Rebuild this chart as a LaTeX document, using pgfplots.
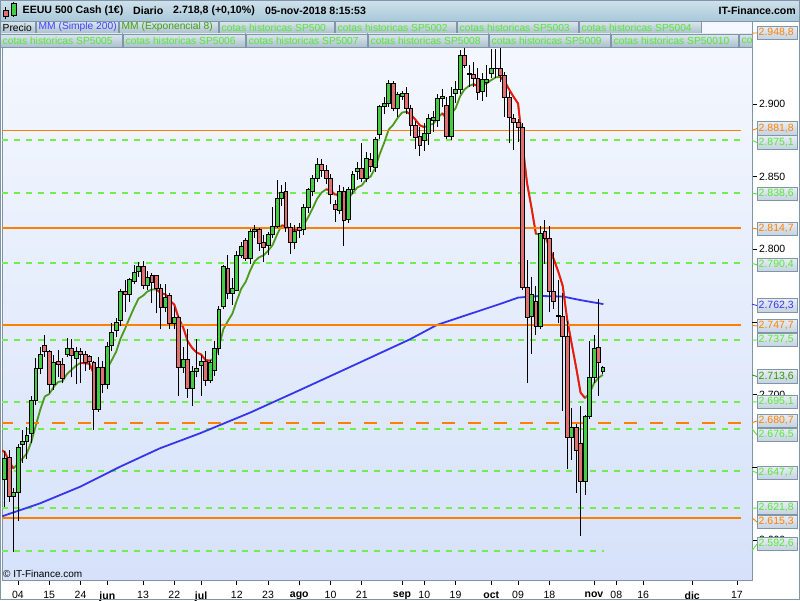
\documentclass[border=0pt]{standalone}
\usepackage{pgfplots}
\pgfplotsset{compat=1.18}
\usepackage{pgfplotstable}
\usepackage{fontspec}
\setmainfont{Liberation Sans}
\definecolor{cgreen}{HTML}{44CC44}
\definecolor{cred}{HTML}{E07070}
\definecolor{emag}{HTML}{4C9A1C}
\definecolor{emagd}{HTML}{339900}
\definecolor{emar}{HTML}{FF1010}
\definecolor{smab}{HTML}{3535EE}
\definecolor{lvl}{RGB}{255,128,0}
\definecolor{lgr}{HTML}{70EE50}
\definecolor{txtg}{HTML}{55E833}
\definecolor{txtb}{HTML}{4040FF}
\definecolor{txtm}{HTML}{40A010}
\definecolor{frame}{HTML}{8096A8}
\definecolor{bgtop}{HTML}{F5F8FE}
\definecolor{bgbot}{HTML}{D6E2FA}
\definecolor{barT}{HTML}{CFE2EC}
\definecolor{barB}{HTML}{A8C8D8}
\definecolor{legT}{HTML}{DCE7EE}
\definecolor{legB}{HTML}{AABFCB}
\definecolor{boxT}{HTML}{E8EEF5}
\definecolor{boxB}{HTML}{C3D1E1}

\pgfdeclarelayer{bg}
\pgfsetlayers{bg,main}

% candle marks (heights in canvas pt, from visualization depends on)
\pgfdeclareplotmark{cbody}{%
  \pgfpathrectangle{\pgfqpoint{-1.95pt}{-\bhh pt}}{\pgfqpoint{3.9pt}{\bh pt}}%
  \pgfusepathqfillstroke
}
\pgfdeclareplotmark{cwick}{%
  \pgfpathmoveto{\pgfqpoint{0pt}{-\whh pt}}%
  \pgfpathlineto{\pgfqpoint{0pt}{\whh pt}}%
  \pgfusepathqstroke
}

\pgfplotstableread{
i o h l c
0 2642 2661 2623 2656
1 2657 2662 2626 2630
2 2630 2636 2592 2633
3 2633 2666 2613 2664
4 2666 2676 2653 2668
5 2668 2678 2656 2672
6 2673 2699 2667 2696
7 2696 2725 2693 2718
8 2718 2733 2714 2728
9 2734 2741 2726 2730
10 2730 2731 2701 2707
11 2707 2727 2703 2722
12 2723 2731 2712 2721
13 2721 2725 2708 2711
14 2728 2739 2726 2732
15 2732 2738 2712 2727
16 2725 2733 2707 2730
17 2730 2732 2708 2728
18 2728 2730 2716 2722
19 2726 2727 2717 2723
20 2722 2723 2676 2690
21 2690 2726 2688 2719
22 2719 2723 2701 2707
23 2707 2736 2704 2733
24 2734 2749 2730 2743
25 2744 2753 2740 2750
26 2751 2773 2747 2771
27 2771 2779 2757 2769
28 2769 2780 2764 2779
29 2778 2789 2776 2784
30 2785 2791 2781 2788
31 2788 2792 2773 2775
32 2775 2785 2772 2781
33 2782 2784 2763 2777
34 2782 2782 2756 2773
35 2773 2776 2745 2760
36 2760 2776 2757 2767
37 2768 2770 2745 2749
38 2749 2760 2745 2753
39 2753 2754 2699 2719
40 2719 2733 2715 2724
41 2724 2745 2698 2704
42 2704 2720 2692 2716
43 2716 2738 2712 2718
44 2720 2727 2699 2723
45 2723 2730 2706 2710
46 2710 2724 2708 2722
47 2717 2737 2713 2732
48 2732 2761 2727 2759
49 2761 2789 2759 2788
50 2787 2796 2766 2770
51 2770 2780 2762 2773
52 2772 2799 2771 2796
53 2796 2805 2794 2802
54 2806 2808 2792 2794
55 2794 2814 2790 2812.6
56 2812.6 2817 2808 2814
57 2814 2815 2799 2804
58 2805 2810 2791 2801
59 2802.5 2812 2796 2810
60 2810 2829 2808 2816
61 2816 2848 2815 2835
62 2835 2844 2830 2839
63 2840 2846 2812 2815
64 2815 2818 2797 2805
65 2805 2817 2800 2812.6
66 2815 2818 2808 2813
67 2814 2831 2810 2829
68 2829 2842 2825 2841
69 2840 2851 2837 2849
70 2849 2863 2846 2858.5
71 2858.5 2862 2850 2854
72 2854 2858 2845 2849
73 2849 2852 2831 2838
74 2831 2834 2819 2827.5
75 2827 2844 2824 2839.6
76 2840 2843 2802 2820
77 2820.6 2843 2818 2841
78 2841 2854 2838 2851.6
79 2853.4 2860 2848 2855.7
80 2855.7 2873 2846 2849
81 2849 2867 2846 2862.6
82 2862 2866 2853 2857.3
83 2856.2 2877 2853 2875.7
84 2879 2899 2876 2898.6
85 2898.6 2905 2893 2900.4
86 2900.4 2916.5 2898 2914.2
87 2914.2 2916 2895 2897
88 2897 2908 2891 2906.6
89 2905.3 2909 2903 2907.3
90 2907.3 2912 2893 2897
91 2897 2899 2878 2885.5
92 2885.5 2888 2869 2877
93 2877.5 2884 2864 2871.5
94 2875 2887 2868 2880
95 2880 2893 2872 2890
96 2889 2895 2881 2890.5
97 2889 2907 2884 2904
98 2904 2910 2898 2905
99 2899 2905 2876 2877.5
100 2877.5 2912 2875 2905
101 2907.5 2916 2901 2910
102 2910 2937 2907 2933.7
103 2933.7 2941 2925 2926.8
104 2921 2927 2912 2920.6
105 2920.6 2929 2912 2917.6
106 2917.6 2925 2903 2908
107 2908.4 2921 2902 2917
108 2915 2927 2905 2917
109 2921 2938 2918 2924.5
110 2924.5 2938 2918 2924.3
111 2924.5 2940 2915 2920
112 2920 2922 2891 2904.5
113 2904.5 2908 2873 2890.5
114 2890 2893 2868 2887.3
115 2887.3 2890 2874 2884
116 2884 2887 2772 2774
117 2774 2793 2708 2753
118 2753.5 2781 2728 2769
119 2764.5 2775 2741 2747
120 2747 2816 2745 2811
121 2812 2820 2790 2807.6
122 2807.6 2816 2757 2771
123 2771 2798 2759 2764.5
124 2754.5 2779 2749 2754
125 2753.7 2770 2689 2740.4
126 2740.4 2751 2649 2670.6
127 2670.6 2691 2655 2677.5
128 2677.5 2680 2632 2661.5
129 2666.5 2692 2603 2640
130 2640 2686 2631 2685.3
131 2685.3 2737 2683 2712
132 2712 2741 2708 2732
133 2732.6 2766 2699 2722
134 2716 2720 2714 2718.8
}\candles

\pgfplotstableread{
i e
-1 2662.0
0 2660.7
1 2653.9
2 2649.3
3 2652.6
4 2656.0
5 2659.6
6 2667.7
7 2678.9
8 2689.8
9 2698.7
10 2700.5
11 2705.3
12 2708.8
13 2709.3
14 2714.3
15 2717.1
16 2720.0
17 2721.8
18 2721.6
19 2721.3
20 2714.2
21 2714.0
22 2713.5
23 2718.2
24 2723.7
25 2729.6
26 2738.8
27 2745.5
28 2752.9
29 2759.8
30 2766.1
31 2768.1
32 2771.0
33 2772.3
34 2772.5
35 2769.7
36 2769.1
37 2764.6
38 2762.0
39 2752.5
40 2746.2
41 2736.8
42 2732.2
43 2729.0
44 2727.7
45 2723.8
46 2723.4
47 2725.3
48 2732.8
49 2745.1
50 2750.6
51 2755.6
52 2764.6
53 2772.9
54 2777.6
55 2785.4
56 2791.8
57 2794.5
58 2795.9
59 2799.0
60 2802.8
61 2810.0
62 2816.4
63 2816.1
64 2813.6
65 2813.4
66 2813.3
67 2816.8
68 2822.2
69 2828.2
70 2834.9
71 2839.1
72 2841.3
73 2840.6
74 2837.7
75 2837.5
76 2833.6
77 2835.2
78 2838.9
79 2842.6
80 2844.0
81 2848.1
82 2850.2
83 2855.9
84 2865.4
85 2873.2
86 2882.3
87 2885.6
88 2890.3
89 2894.1
90 2894.7
91 2892.7
92 2889.2
93 2885.3
94 2884.1
95 2885.4
96 2886.4
97 2890.3
98 2893.6
99 2890.0
100 2893.3
101 2897.0
102 2905.2
103 2910.0
104 2912.4
105 2913.6
106 2912.3
107 2913.4
108 2914.2
109 2916.5
110 2918.3
111 2918.7
112 2915.5
113 2910.0
114 2904.9
115 2900.3
116 2872.2
117 2845.7
118 2828.7
119 2810.5
120 2810.6
121 2809.9
122 2801.3
123 2793.1
124 2784.6
125 2774.8
126 2751.6
127 2735.1
128 2718.8
129 2701.3
130 2697.7
131 2700.9
132 2707.8
133 2711.6
134 2713.6
}\ema

\pgfplotstableread{
i e
-1 2662.0
0 2660.7
1 2653.9
2 2649.3
nan nan
17 2721.8
18 2721.6
19 2721.3
20 2714.2
21 2714.0
22 2713.5
nan nan
34 2772.5
35 2769.7
36 2769.1
37 2764.6
38 2762.0
39 2752.5
40 2746.2
41 2736.8
42 2732.2
43 2729.0
44 2727.7
45 2723.8
46 2723.4
nan nan
62 2816.4
63 2816.1
64 2813.6
65 2813.4
66 2813.3
nan nan
72 2841.3
73 2840.6
74 2837.7
75 2837.5
76 2833.6
nan nan
90 2894.7
91 2892.7
92 2889.2
93 2885.3
94 2884.1
nan nan
98 2893.6
99 2890.0
nan nan
105 2913.6
106 2912.3
nan nan
111 2918.7
112 2915.5
113 2910.0
114 2904.9
115 2900.3
116 2872.2
117 2845.7
118 2828.7
119 2810.5
nan nan
120 2810.6
121 2809.9
122 2801.3
123 2793.1
124 2784.6
125 2774.8
126 2751.6
127 2735.1
128 2718.8
129 2701.3
130 2697.7
}\emared

\pgfplotstableread{
i s
-1.03 2615.8
7.93 2625.2
16.89 2636.6
25.85 2650.4
34.80 2663.1
43.76 2673.4
54.96 2687.6
66.16 2703.2
77.35 2719.0
90.80 2738.1
96.78 2747.9
104.2 2755.5
110.95 2762.4
115.05 2766.8
119.9 2767.9
125.06 2767.5
128.9 2765.1
134.1 2762.3
}\sma

\newcommand{\fl}{\fontsize{10.25}{12}\selectfont}
\newcommand{\ft}{\fontsize{10.5}{12}\selectfont}

% legend box: x1, x2, ybottom, ytop, color, text
\newcommand{\legbox}[6]{%
  \draw[draw=frame, line width=0.8pt, top color=legT, bottom color=legB] (#1,#3) rectangle (#2,#4);
  \node[anchor=west, inner sep=0pt, text=#5, font=\fl] at ({#1+2.5},{(#3+#4)/2}) {#6};
}
% price label: price y px, box centre px, colour, text
\newcommand{\plab}[4]{%
  \draw[#3, line width=0.9pt] (752,{600-#1}) -- (757,{600-#2});
  \draw[draw=frame, line width=0.8pt, top color=boxT, bottom color=boxB] (757,{600-#2-6.75}) rectangle (797,{600-#2+6.75});
  \node[anchor=west, inner sep=0pt, text=#3, font=\ft] at (758.5,{600-#2}) {#4};
}

\begin{document}
\begin{tikzpicture}[x=1pt,y=1pt]
\begin{axis}[
  name=ax, at={(0,0)}, anchor=south west,
  scale only axis, width=750pt, height=559pt,
  xmin=-0.582, xmax=167.39, ymin=2572.46, ymax=2957.11,
  axis background/.style={shade, top color=bgtop, bottom color=bgbot},
  axis line style={draw=frame, line width=1pt},
  xtick={3,10,17,23,31,38,44,52,59,66,73,80,89,94,101,109,115,122,132,137,143,154,164},
  xticklabels={04,15,24,\textbf{jun},13,22,\textbf{jul},12,23,\textbf{ago},10,21,\textbf{sep},10,19,\textbf{oct},09,18,\textbf{nov},08,16,\textbf{dic},17},
  ytick={2600,2700,2800,2850,2900},
  yticklabels={2.600,2.700,2.800,2.850,2.900},
  extra y ticks={2650,2750},
  extra y tick labels={},
  xtick pos=left, ytick pos=right, yticklabel pos=right,
  tick align=outside, major tick length=4.5pt,
  tick style={black, line width=0.7pt},
  ticklabel style={font=\ft},
  xticklabel style={anchor=north, yshift=-3.5pt},
  yticklabel style={anchor=west, xshift=-1pt},
  clip=true,
]
% wicks
\addplot[scatter, only marks, mark=cwick, forget plot,
  scatter/@pre marker code/.code={\scope[draw=black, line width=0.9pt]},
  scatter/@post marker code/.code={\endscope},
  visualization depends on={(\thisrow{h}-\thisrow{l})*0.726635 \as \whh}]
  table[x=i, y expr={(\thisrow{h}+\thisrow{l})/2}] {\candles};
% up bodies
\addplot[scatter, only marks, mark=cbody, forget plot,
  restrict expr to domain={\thisrow{c}-\thisrow{o}}{0:1000},
  scatter/@pre marker code/.code={\scope[draw=black, fill=cgreen, line width=0.8pt]},
  scatter/@post marker code/.code={\endscope},
  visualization depends on={abs(\thisrow{c}-\thisrow{o})*0.726635 \as \bhh},
  visualization depends on={abs(\thisrow{c}-\thisrow{o})*1.45327 \as \bh}]
  table[x=i, y expr={(\thisrow{o}+\thisrow{c})/2}] {\candles};
% down bodies
\addplot[scatter, only marks, mark=cbody, forget plot,
  restrict expr to domain={\thisrow{c}-\thisrow{o}}{-1000:-0.01},
  scatter/@pre marker code/.code={\scope[draw=black, fill=cred, line width=0.8pt]},
  scatter/@post marker code/.code={\endscope},
  visualization depends on={abs(\thisrow{c}-\thisrow{o})*0.726635 \as \bhh},
  visualization depends on={abs(\thisrow{c}-\thisrow{o})*1.45327 \as \bh}]
  table[x=i, y expr={(\thisrow{o}+\thisrow{c})/2}] {\candles};

% green dashed levels
\addplot[color=lgr, solid, line width=2pt, dash pattern=on 6.5pt off 5.5pt] coordinates {(-0.6,2875.1) (165,2875.1)};
\addplot[color=lgr, solid, line width=2pt, dash pattern=on 6.5pt off 5.5pt] coordinates {(-0.6,2838.6) (165,2838.6)};
\addplot[color=lgr, solid, line width=2pt, dash pattern=on 6.5pt off 5.5pt] coordinates {(-0.6,2790.4) (165,2790.4)};
\addplot[color=lgr, solid, line width=2pt, dash pattern=on 6.5pt off 5.5pt] coordinates {(-0.6,2737.5) (165,2737.5)};
\addplot[color=lgr, solid, line width=2pt, dash pattern=on 6.5pt off 5.5pt] coordinates {(-0.6,2695.1) (165,2695.1)};
\addplot[color=lgr, solid, line width=2pt, dash pattern=on 6.5pt off 5.5pt] coordinates {(-0.6,2676.5) (165,2676.5)};
\addplot[color=lgr, solid, line width=2pt, dash pattern=on 6.5pt off 5.5pt] coordinates {(-0.6,2647.7) (165,2647.7)};
\addplot[color=lgr, solid, line width=2pt, dash pattern=on 6.5pt off 5.5pt] coordinates {(-0.6,2621.8) (165,2621.8)};
\addplot[color=lgr, solid, line width=2pt, dash pattern=on 6.5pt off 5.5pt] coordinates {(-0.6,2592.6) (134.2,2592.6)};

% SMA 200
\addplot[color=smab, line width=1.8pt, line join=round] table[x=i, y=s] {\sma};
% EMA 8
\addplot[color=emag, line width=1.8pt, line join=round] table[x=i, y=e] {\ema};
\addplot[color=emar, line width=1.8pt, line join=round, unbounded coords=jump] table[x=i, y=e] {\emared};

% orange levels
\addplot[color=lvl, line width=1.2pt] coordinates {(-1,2881.8) (165,2881.8)};
\addplot[color=lvl, line width=1.2pt] coordinates {(-1,2814.7) (165,2814.7)};
\addplot[color=lvl, line width=1.5pt] coordinates {(-1,2747.9) (165,2747.9)};
\addplot[color=lvl, line width=1.5pt] coordinates {(-1,2615.2) (165,2615.2)};
\addplot[color=lvl, line width=2.2pt, dash pattern=on 13pt off 13pt] coordinates {(-1,2680.7) (165,2680.7)};
\end{axis}

\pgfresetboundingbox
\begin{scope}[shift={(ax.south west)}]
\begin{scope}[shift={(-2,-20)}]
\useasboundingbox (0,0) rectangle (800,600);
\begin{pgfonlayer}{bg}
\fill[white] (0,0) rectangle (800,600);
\end{pgfonlayer}

% legend rows
\legbox{0}{35}{566.5}{578.8}{black}{Precio}
\legbox{36}{118}{566.5}{578.8}{txtb}{MM (Simple 200)}
\legbox{119}{218}{566.5}{578.8}{txtm}{MM (Exponencial 8)}
\legbox{219}{334}{566.5}{578.8}{txtg}{cotas historicas SP500}
\legbox{335}{456}{566.5}{578.8}{txtg}{cotas historicas SP5002}
\legbox{457}{578}{566.5}{578.8}{txtg}{cotas historicas SP5003}
\legbox{579}{701}{566.5}{578.8}{txtg}{cotas historicas SP5004}
\legbox{0}{122}{552.5}{566}{txtg}{cotas historicas SP5005}
\legbox{123}{245}{552.5}{566}{txtg}{cotas historicas SP5006}
\legbox{246}{367}{552.5}{566}{txtg}{cotas historicas SP5007}
\legbox{368}{488}{552.5}{566}{txtg}{cotas historicas SP5008}
\legbox{489}{610}{552.5}{566}{txtg}{cotas historicas SP5009}
\legbox{611}{738}{552.5}{566}{txtg}{cotas historicas SP50010}
\begin{scope}
\clip (0,540) rectangle (752,580);
\legbox{739}{790}{552.5}{566}{txtg}{co}
\end{scope}

% title bar
\shade[top color=barT, bottom color=barB] (0,579) rectangle (800,600);
\draw[frame, line width=0.8pt] (0,579) -- (800,579);
\draw[black, line width=0.6pt] (5.5,580.5) -- (5.5,593);
\draw[black, line width=0.5pt, fill=cred] (3,584) rectangle (8,590);
\draw[black, line width=0.6pt] (13.7,583) -- (13.7,598);
\draw[black, line width=0.5pt, fill=cgreen] (11,585) rectangle (16.5,596.5);
\node[anchor=west, inner sep=0pt, font=\bfseries\fontsize{10.6}{12}\selectfont] at (22.5,589) {EEUU 500 Cash (1€)};
\node[anchor=west, inner sep=0pt, font=\bfseries\fontsize{10.6}{12}\selectfont] at (133,589) {Diario};
\node[anchor=west, inner sep=0pt, font=\bfseries\fontsize{10.6}{12}\selectfont] at (173,589) {2.718,8 (+0,10\%)};
\node[anchor=west, inner sep=0pt, font=\bfseries\fontsize{10.6}{12}\selectfont] at (265,589) {05-nov-2018 8:15:53};
\node[anchor=east, inner sep=0pt, font=\bfseries\fontsize{10.6}{12}\selectfont] at (796,589) {IT-Finance.com};

% price labels
\plab{33.1}{33}{lvl}{2.948,8}
\plab{130.5}{128.5}{lvl}{2.881,8}
\plab{140.2}{142.5}{txtg}{2.875,1}
\plab{193.2}{194}{txtg}{2.838,6}
\plab{227.9}{229}{lvl}{2.814,7}
\plab{263.2}{265}{txtg}{2.790,4}
\plab{304.2}{305.5}{smab}{2.762,3}
\plab{325.4}{326}{lvl}{2.747,7}
\plab{340.3}{340}{txtg}{2.737,5}
\plab{375.0}{376.5}{emagd}{2.713,6}
\plab{401.8}{402}{txtg}{2.695,1}
\plab{422.7}{421}{lvl}{2.680,7}
\plab{428.8}{435}{txtg}{2.676,5}
\plab{470.6}{473}{txtg}{2.647,7}
\plab{508.3}{508}{txtg}{2.621,8}
\plab{517.7}{522}{lvl}{2.615,3}
\plab{550.7}{544}{txtg}{2.592,6}

\node[anchor=west, inner sep=0pt, font=\fontsize{10}{12}\selectfont] at (3,26) {© IT-Finance.com};
\draw[frame, line width=1pt] (0.5,0.5) rectangle (799.5,599.5);
\end{scope}
\end{scope}
\end{tikzpicture}
\end{document}
